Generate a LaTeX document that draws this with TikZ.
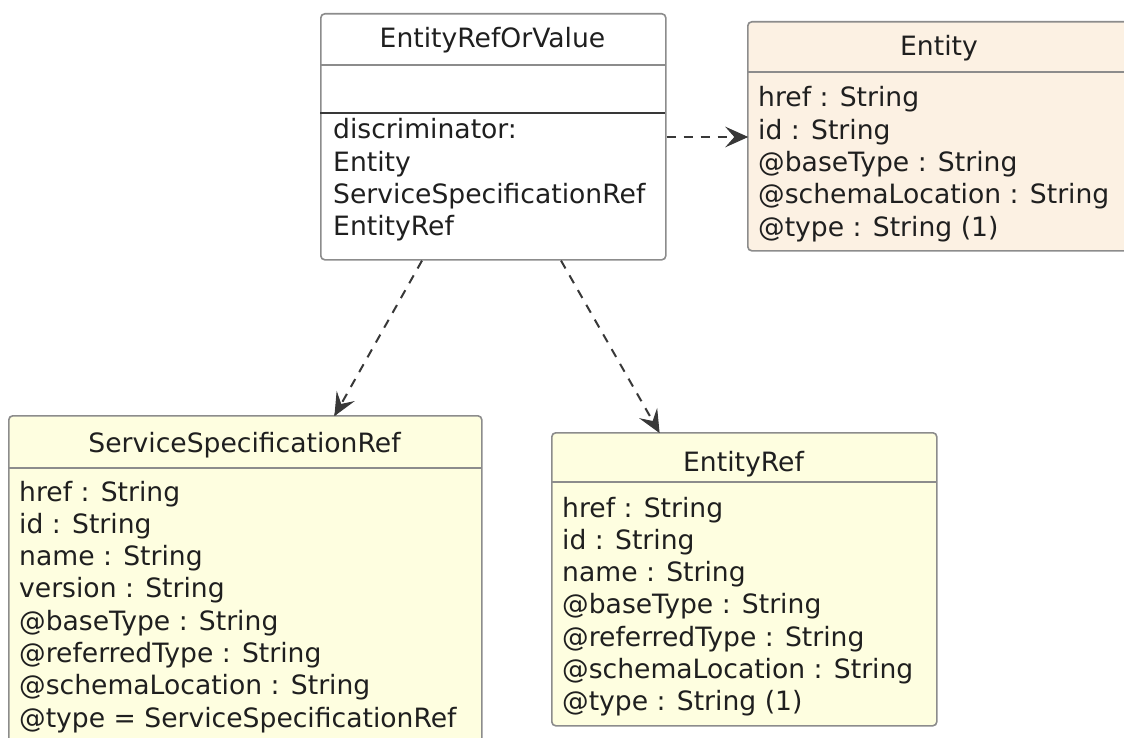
\documentclass[tikz,border=0pt]{standalone}
\usepackage{fontspec}
\setmainfont{DejaVu Sans}
\usetikzlibrary{decorations.markings}
\definecolor{bordergray}{HTML}{8C8C8C}
\definecolor{linedark}{HTML}{383838}
\definecolor{entfill}{HTML}{FCF1E3}
\definecolor{refill}{HTML}{FEFEE0}
\tikzset{
  umlbox/.style={draw=bordergray, line width=1.6pt, rounded corners=4pt, anchor=north west, inner sep=0pt},
  divline/.style={draw=bordergray, line width=1.6pt},
  divdark/.style={draw=linedark, line width=1.8pt},
  txt/.style={anchor=base west, inner sep=0pt, font=\fontsize{26.6}{32}\selectfont, text=black!88},
  ttl/.style={anchor=base, inner sep=0pt, font=\fontsize{26.6}{32}\selectfont, text=black!88},
  dep/.style={draw=linedark, line width=2pt, dash pattern=on 9pt off 8pt,
    postaction={decorate, decoration={markings, mark=at position 1 with {
      \filldraw[linedark, solid, line width=1pt, line join=miter]
        (0pt,0pt) -- (-20pt,9pt) -- (-12pt,0pt) -- (-20pt,-9pt) -- cycle;}}}}
}
\begin{document}
\begin{tikzpicture}[x=1pt, y=-1pt]
\useasboundingbox (0,0) rectangle (1124,738);
\clip (0,0) rectangle (1124,738);
\fill[white] (0,0) rectangle (1124,738);

% EntityRefOrValue
\node[umlbox, fill=white, minimum width=345pt, minimum height=246pt] (erov) at (320,13) {};
\draw[divline] (320,65) -- (665,65);
\draw[divdark] (320,113) -- (665,113);
\node[ttl] (erovt) at (492.5,48) {EntityRefOrValue};
\foreach \t [count=\i from 0] in {discriminator:, Entity, ServiceSpecificationRef, EntityRef}
  \node[txt] (erov\i) at (333,{139+32.3*\i}) {\t};

% Entity
\node[umlbox, fill=entfill, minimum width=385pt, minimum height=229pt] (ent) at (747,21) {};
\draw[divline] (747,72) -- (1132,72);
\node[ttl] (entt) at (939,56) {Entity};
\foreach \t [count=\i from 0] in {href : String, id : String, @baseType : String, @schemaLocation : String, @type : String (1)}
  \node[txt] (ent\i) at (758,{107+32.3*\i}) {\t};

% ServiceSpecificationRef
\node[umlbox, fill=refill, minimum width=473pt, minimum height=340pt] (ssr) at (8,415) {};
\draw[divline] (8,468) -- (481,468);
\node[ttl] (ssrt) at (244.5,452) {ServiceSpecificationRef};
\foreach \t [count=\i from 0] in {href : String, id : String, name : String, version : String, @baseType : String, @referredType : String, @schemaLocation : String, @type = ServiceSpecificationRef}
  \node[txt] (ssr\i) at (19,{501+32.3*\i}) {\t};

% EntityRef
\node[umlbox, fill=refill, minimum width=385pt, minimum height=293pt] (eref) at (551,432) {};
\draw[divline] (551,482) -- (936,482);
\node[ttl] (ereft) at (743.5,471) {EntityRef};
\foreach \t [count=\i from 0] in {href : String, id : String, name : String, @baseType : String, @referredType : String, @schemaLocation : String, @type : String (1)}
  \node[txt] (eref\i) at (562,{517+32.3*\i}) {\t};

% connectors
\draw[dep] (erov.east |- 0,137) -- (ent.west |- 0,137);
\draw[dep] ([xshift=102pt]erov.south west) -- ([xshift=327pt]ssr.north west);
\draw[dep] ([xshift=241pt]erov.south west) -- ([xshift=108pt]eref.north west);
\end{tikzpicture}
\end{document}
